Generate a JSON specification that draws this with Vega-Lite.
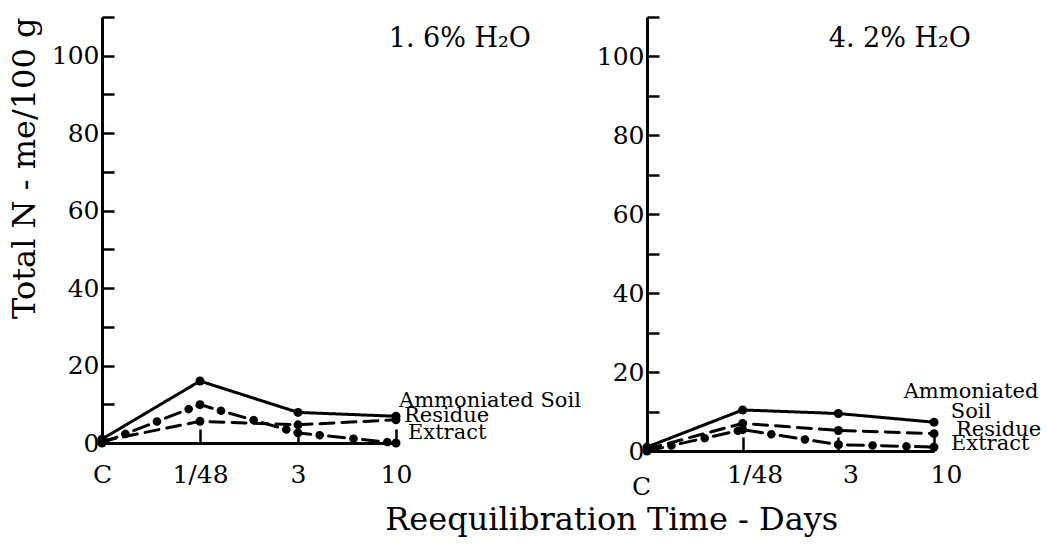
{
  "$schema": "https://vega.github.io/schema/vega-lite/v6.json",
  "background": "white",
  "padding": {"left": 8, "top": 15, "right": 5, "bottom": 5},
  "bounds": "flush",
  "spacing": 251,
  "config": {
    "view": {"stroke": null},
    "font": "DejaVu Serif",
    "axis": {"grid": false, "domainColor": "black", "domainWidth": 3, "tickColor": "black", "tickWidth": 2.5, "labelColor": "black", "labelFont": "DejaVu Serif", "labelFontSize": 25, "titleColor": "black", "titleFont": "DejaVu Serif", "titleFontWeight": "normal"},
    "title": {"font": "DejaVu Serif", "fontWeight": "normal", "color": "black"}
  },
  "title": {"text": "Reequilibration Time - Days", "orient": "bottom", "anchor": "middle", "fontSize": 32, "dx": 87, "offset": 6},
  "datasets": {
    "n": [
      {"panel": "1.6%", "series": "Ammoniated Soil", "time": "C", "value": 1},
      {"panel": "1.6%", "series": "Ammoniated Soil", "time": "1/48", "value": 16},
      {"panel": "1.6%", "series": "Ammoniated Soil", "time": "3", "value": 7.9},
      {"panel": "1.6%", "series": "Ammoniated Soil", "time": "10", "value": 6.9},
      {"panel": "1.6%", "series": "Residue", "time": "C", "value": 0.5},
      {"panel": "1.6%", "series": "Residue", "time": "1/48", "value": 5.6},
      {"panel": "1.6%", "series": "Residue", "time": "3", "value": 4.7},
      {"panel": "1.6%", "series": "Residue", "time": "10", "value": 6},
      {"panel": "1.6%", "series": "Extract", "time": "C", "value": 0},
      {"panel": "1.6%", "series": "Extract", "time": "1/48", "value": 9.9},
      {"panel": "1.6%", "series": "Extract", "time": "3", "value": 2.6},
      {"panel": "1.6%", "series": "Extract", "time": "10", "value": 0},
      {"panel": "4.2%", "series": "Ammoniated Soil", "time": "C", "value": 1},
      {"panel": "4.2%", "series": "Ammoniated Soil", "time": "1/48", "value": 10.4},
      {"panel": "4.2%", "series": "Ammoniated Soil", "time": "3", "value": 9.5},
      {"panel": "4.2%", "series": "Ammoniated Soil", "time": "10", "value": 7.3},
      {"panel": "4.2%", "series": "Residue", "time": "C", "value": 0.5},
      {"panel": "4.2%", "series": "Residue", "time": "1/48", "value": 7},
      {"panel": "4.2%", "series": "Residue", "time": "3", "value": 5.2},
      {"panel": "4.2%", "series": "Residue", "time": "10", "value": 4.4},
      {"panel": "4.2%", "series": "Extract", "time": "C", "value": 0},
      {"panel": "4.2%", "series": "Extract", "time": "1/48", "value": 5.4},
      {"panel": "4.2%", "series": "Extract", "time": "3", "value": 1.6},
      {"panel": "4.2%", "series": "Extract", "time": "10", "value": 1}
    ]
  },
  "hconcat": [
    {
      "width": 294,
      "height": 426,
      "title": {"text": "1. 6% H₂O", "anchor": "end", "frame": "group", "fontSize": 27, "dx": 135, "dy": 41},
      "data": {"name": "n"},
      "transform": [{"filter": "datum.panel == '1.6%'"}],
      "encoding": {
        "x": {"field": "time", "type": "ordinal", "sort": null, "title": null,
              "scale": {"type": "point", "padding": 0, "domain": ["C", "1/48", "3", "10"]},
              "axis": {"labelAngle": 0, "tickSize": -14, "labelPadding": 33}},
        "y": {"field": "value", "type": "quantitative", "title": "Total N - me/100 g",
              "scale": {"domain": [0, 110], "nice": false, "zero": true},
              "axis": {"values": [0, 10, 20, 30, 40, 50, 60, 70, 80, 90, 100, 110], "labelExpr": "datum.value % 20 == 0 && datum.value <= 100 ? datum.label : ''", "tickSize": -12, "labelPadding": 15, "titleFontSize": 32, "titleAnchor": "end", "titlePadding": 10}}
      },
      "layer": [
        {"transform": [{"filter": "datum.series != 'Extract'"}],
         "mark": {"type": "line", "color": "black", "strokeWidth": 3, "strokeCap": "round"},
         "encoding": {"strokeDash": {"field": "series", "type": "nominal", "legend": null,
           "scale": {"domain": ["Ammoniated Soil", "Residue"], "range": [[1, 0], [14, 8]]}}}},
        {"transform": [{"filter": "datum.series == 'Extract'"}],
         "mark": {"type": "line", "color": "black", "strokeWidth": 3, "strokeCap": "round", "strokeDash": [16, 18]},
         "encoding": {}},
        {"transform": [{"filter": "datum.series == 'Extract'"}],
         "mark": {"type": "line", "color": "black", "strokeWidth": 8.5, "strokeCap": "round", "strokeDash": [0.1, 33.9], "strokeDashOffset": 9},
         "encoding": {}},
        {"mark": {"type": "point", "filled": true, "color": "black", "size": 80, "opacity": 1}},
        {"transform": [{"filter": "datum.series == 'Ammoniated Soil' && datum.time == '10'"}],
         "mark": {"type": "text", "align": "left", "baseline": "middle", "dx": 3, "dy": -15, "fontSize": 21, "color": "black"},
         "encoding": {"text": {"field": "series"}}},
        {"transform": [{"filter": "datum.series == 'Residue' && datum.time == '10'"}],
         "mark": {"type": "text", "align": "left", "baseline": "middle", "dx": 8, "dy": -4, "fontSize": 21, "color": "black"},
         "encoding": {"text": {"field": "series"}}},
        {"transform": [{"filter": "datum.series == 'Extract' && datum.time == '10'"}],
         "mark": {"type": "text", "align": "left", "baseline": "middle", "dx": 12, "dy": -10, "fontSize": 21, "color": "black"},
         "encoding": {"text": {"field": "series"}}}
      ]
    },
    {
      "width": 287,
      "height": 434,
      "title": {"text": "4. 2% H₂O", "anchor": "end", "frame": "group", "fontSize": 27, "dx": 37, "dy": 41},
      "data": {"name": "n"},
      "transform": [{"filter": "datum.panel == '4.2%'"}],
      "encoding": {
        "x": {"field": "time", "type": "ordinal", "sort": null, "title": null,
              "scale": {"type": "point", "padding": 0, "domain": ["C", "1/48", "3", "10"]},
              "axis": {"labelAngle": 0, "tickSize": -14,
                       "labelPadding": {"condition": {"test": "datum.value == 'C'", "value": 37}, "value": 25},
                       "labelOffset": {"condition": {"test": "datum.value == 'C'", "value": -6}, "value": 12}}},
        "y": {"field": "value", "type": "quantitative", "title": null,
              "scale": {"domain": [0, 110], "nice": false, "zero": true},
              "axis": {"values": [0, 10, 20, 30, 40, 50, 60, 70, 80, 90, 100, 110], "labelExpr": "datum.value % 20 == 0 && datum.value <= 100 ? datum.label : ''", "tickSize": -12, "labelPadding": 15}}
      },
      "layer": [
        {"transform": [{"filter": "datum.series != 'Extract'"}],
         "mark": {"type": "line", "color": "black", "strokeWidth": 3, "strokeCap": "round"},
         "encoding": {"strokeDash": {"field": "series", "type": "nominal", "legend": null,
           "scale": {"domain": ["Ammoniated Soil", "Residue"], "range": [[1, 0], [14, 8]]}}}},
        {"transform": [{"filter": "datum.series == 'Extract'"}],
         "mark": {"type": "line", "color": "black", "strokeWidth": 3, "strokeCap": "round", "strokeDash": [16, 18]},
         "encoding": {}},
        {"transform": [{"filter": "datum.series == 'Extract'"}],
         "mark": {"type": "line", "color": "black", "strokeWidth": 8.5, "strokeCap": "round", "strokeDash": [0.1, 33.9], "strokeDashOffset": 9},
         "encoding": {}},
        {"mark": {"type": "point", "filled": true, "color": "black", "size": 80, "opacity": 1}},
        {"transform": [{"filter": "datum.series == 'Ammoniated Soil' && datum.time == '10'"}],
         "mark": {"type": "text", "align": "center", "baseline": "middle", "dx": 37, "dy": -30, "fontSize": 21, "lineBreak": " ", "lineHeight": 20, "color": "black"},
         "encoding": {"text": {"field": "series"}}},
        {"transform": [{"filter": "datum.series == 'Residue' && datum.time == '10'"}],
         "mark": {"type": "text", "align": "left", "baseline": "middle", "dx": 22, "dy": -4, "fontSize": 21, "color": "black"},
         "encoding": {"text": {"field": "series"}}},
        {"transform": [{"filter": "datum.series == 'Extract' && datum.time == '10'"}],
         "mark": {"type": "text", "align": "left", "baseline": "middle", "dx": 17, "dy": -3, "fontSize": 21, "color": "black"},
         "encoding": {"text": {"field": "series"}}}
      ]
    }
  ]
}
